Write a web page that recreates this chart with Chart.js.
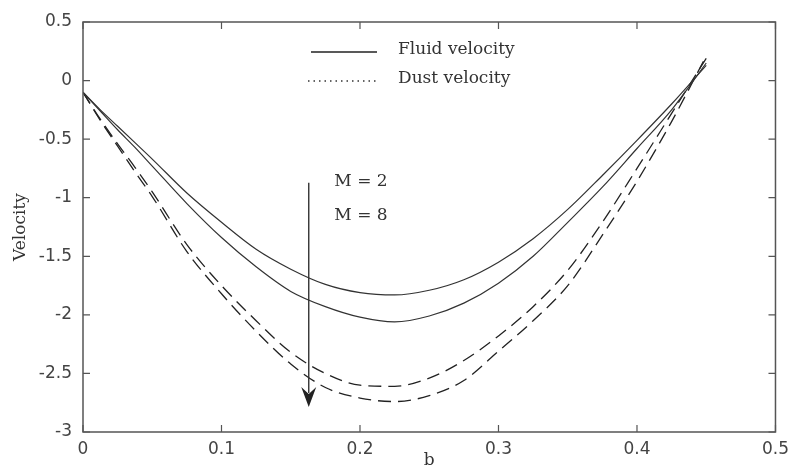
<!DOCTYPE html>
<html>
<head>
<meta charset="utf-8">
<script src="https://cdn.jsdelivr.net/npm/chart.js@4.4.0/dist/chart.umd.min.js"></script>
<style>
html,body{margin:0;padding:0;background:#fff;}
#wrap{width:796px;height:466px;position:relative;}
</style>
</head>
<body>
<div id="wrap"><canvas id="c" width="796" height="466"></canvas></div>
<script>
// ---- data ----
const xValues = [0, 0.0125, 0.025, 0.0375, 0.05, 0.075, 0.1, 0.125, 0.15, 0.175, 0.2, 0.225, 0.25, 0.275, 0.3, 0.325, 0.35, 0.375, 0.4, 0.425, 0.45];
const fluidM2 = [-0.10, -0.25, -0.39, -0.53, -0.67, -0.96, -1.21, -1.44, -1.61, -1.74, -1.81, -1.83, -1.79, -1.70, -1.55, -1.35, -1.10, -0.81, -0.51, -0.20, 0.13];
const fluidM8 = [-0.10, -0.26, -0.42, -0.57, -0.73, -1.05, -1.34, -1.59, -1.80, -1.93, -2.02, -2.06, -2.01, -1.90, -1.73, -1.50, -1.21, -0.91, -0.58, -0.25, 0.15];
const dustM2  = [-0.10, -0.33, -0.54, -0.74, -0.95, -1.40, -1.75, -2.05, -2.32, -2.50, -2.60, -2.61, -2.54, -2.39, -2.18, -1.93, -1.62, -1.21, -0.75, -0.28, 0.19];
const dustM8  = [-0.10, -0.34, -0.56, -0.78, -0.99, -1.46, -1.82, -2.14, -2.42, -2.62, -2.71, -2.74, -2.69, -2.56, -2.31, -2.05, -1.75, -1.32, -0.86, -0.35, 0.21];
const xTickValues = [0, 0.1, 0.2, 0.3, 0.4, 0.5];
const yTickValues = [0.5, 0, -0.5, -1, -1.5, -2, -2.5, -3];
const legendLabels = ['Fluid velocity', 'Dust velocity'];
const xTitle = 'b';
const yTitle = 'Velocity';
const mLabels = ['M = 2', 'M = 8'];
const mLabelX = 0.1815;
const mLabelY = [-0.866, -1.156];
const arrowX = 0.163;
const arrowFrom = -0.872;
const arrowTo = -2.787;

const pts = ys => xValues.map((x, i) => ({x: x, y: ys[i]}));

const serif = '"DejaVu Serif", "Liberation Serif", serif';
const sans = '"DejaVu Sans", "Liberation Sans", sans-serif';

const decor = {
  id: 'decor',
  afterDraw(chart) {
    const ctx = chart.ctx;
    const a = chart.chartArea;
    const xs = chart.scales.x, ys = chart.scales.y;
    ctx.save();
    // frame
    ctx.strokeStyle = '#555';
    ctx.lineWidth = 1.5;
    ctx.strokeRect(a.left, a.top, a.right - a.left, a.bottom - a.top);
    // inner ticks on all four sides
    const tl = 7;
    ctx.lineWidth = 1.2;
    ctx.beginPath();
    xTickValues.forEach(v => {
      const px = xs.getPixelForValue(v);
      ctx.moveTo(px, a.bottom); ctx.lineTo(px, a.bottom - tl);
      ctx.moveTo(px, a.top); ctx.lineTo(px, a.top + tl);
    });
    yTickValues.forEach(v => {
      const py = ys.getPixelForValue(v);
      ctx.moveTo(a.left, py); ctx.lineTo(a.left + tl, py);
      ctx.moveTo(a.right, py); ctx.lineTo(a.right - tl, py);
    });
    ctx.stroke();

    // legend
    const lx0 = a.left + 228, lx1 = a.left + 294, tx = a.left + 315;
    const ly = [a.top + 30, a.top + 59];
    ctx.strokeStyle = '#222';
    ctx.lineWidth = 1.3;
    ctx.beginPath(); ctx.moveTo(lx0, ly[0]); ctx.lineTo(lx1, ly[0]); ctx.stroke();
    ctx.setLineDash([1.5, 4]);
    ctx.lineWidth = 1.3;
    ctx.strokeStyle = '#333';
    ctx.beginPath(); ctx.moveTo(lx0 - 3, ly[1]); ctx.lineTo(lx1, ly[1]); ctx.stroke();
    ctx.setLineDash([]);
    ctx.fillStyle = '#333';
    ctx.font = '17px ' + serif;
    ctx.textAlign = 'left';
    ctx.textBaseline = 'middle';
    ctx.fillText(legendLabels[0], tx, ly[0] - 2);
    ctx.fillText(legendLabels[1], tx, ly[1] - 2);

    // arrow annotation
    const ax = xs.getPixelForValue(arrowX);
    const ay0 = ys.getPixelForValue(arrowFrom);
    const ay1 = ys.getPixelForValue(arrowTo);
    ctx.strokeStyle = '#333';
    ctx.lineWidth = 1.4;
    ctx.beginPath(); ctx.moveTo(ax, ay0); ctx.lineTo(ax, ay1 - 14); ctx.stroke();
    ctx.fillStyle = '#222';
    ctx.beginPath();
    ctx.moveTo(ax, ay1);
    ctx.lineTo(ax - 7.5, ay1 - 20);
    ctx.lineTo(ax, ay1 - 13);
    ctx.lineTo(ax + 7.5, ay1 - 20);
    ctx.closePath();
    ctx.fill();

    // M labels
    ctx.fillStyle = '#333';
    ctx.font = '17px ' + serif;
    mLabels.forEach((t, i) => {
      ctx.fillText(t, xs.getPixelForValue(mLabelX), ys.getPixelForValue(mLabelY[i]));
    });
    ctx.restore();
  }
};

const lineStyle = (data, dashed) => ({
  data: data,
  borderColor: dashed ? '#222' : '#333',
  borderWidth: dashed ? 1.3 : 1.2,
  borderDash: dashed ? [13, 7] : [],
  pointRadius: 0,
  fill: false,
  cubicInterpolationMode: 'monotone'
});

new Chart(document.getElementById('c'), {
  type: 'line',
  data: {
    datasets: [
      Object.assign({label: 'Fluid velocity, M = 2'}, lineStyle(pts(fluidM2), false)),
      Object.assign({label: 'Fluid velocity, M = 8'}, lineStyle(pts(fluidM8), false)),
      Object.assign({label: 'Dust velocity, M = 2'}, lineStyle(pts(dustM2), true)),
      Object.assign({label: 'Dust velocity, M = 8'}, lineStyle(pts(dustM8), true))
    ]
  },
  options: {
    responsive: false,
    animation: false,
    devicePixelRatio: 1,
    layout: {padding: {left: 0, right: 16, top: 22, bottom: 0}},
    plugins: {legend: {display: false}, tooltip: {enabled: false}},
    scales: {
      x: {
        type: 'linear', min: 0, max: 0.5,
        afterBuildTicks: s => { s.ticks = xTickValues.map(v => ({value: v})); },
        afterFit: s => { s.height = 34; },
        grid: {display: false, drawTicks: false},
        border: {display: false},
        ticks: {
          padding: 7, color: '#444', maxRotation: 0,
          font: {family: sans, size: 17},
          callback: v => String(v)
        },
        title: {display: true, text: xTitle, color: '#333', font: {family: serif, size: 17}, padding: {top: 0, bottom: -5}}
      },
      y: {
        type: 'linear', min: -3, max: 0.5,
        afterBuildTicks: s => { s.ticks = yTickValues.map(v => ({value: v})); },
        afterFit: s => { s.width = 83; },
        grid: {display: false, drawTicks: false},
        border: {display: false},
        ticks: {
          padding: 11, color: '#444',
          font: {family: sans, size: 17},
          callback: v => String(v)
        },
        title: {display: true, text: yTitle, color: '#333', font: {family: serif, size: 17}, padding: {top: 10, bottom: 0}}
      }
    }
  },
  plugins: [decor]
});
</script>
</body>
</html>
